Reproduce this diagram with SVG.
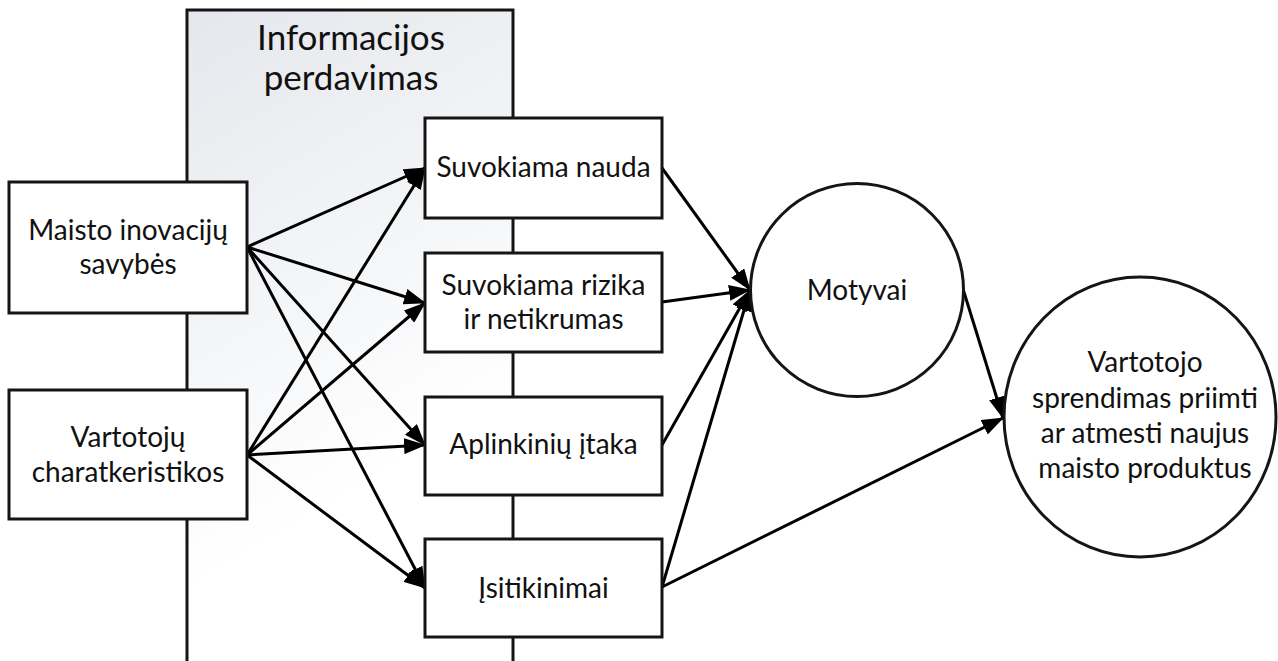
<svg xmlns="http://www.w3.org/2000/svg" width="1278" height="661" viewBox="0 0 1278 661">
<style>
.box{fill:#ffffff;stroke:#151515;stroke-width:3}
.lbl{font-family:Lato,"Liberation Sans",sans-serif;font-size:28px;fill:#111;text-anchor:middle}
.title{font-family:Lato,"Liberation Sans",sans-serif;font-size:35px;fill:#111;text-anchor:middle}
.conn{stroke:#000;stroke-width:3;fill:none;marker-end:url(#arr)}
</style>
<defs>
<linearGradient id="bg" gradientUnits="userSpaceOnUse" x1="187" y1="10" x2="440" y2="440">
<stop offset="0" stop-color="#e4e7ec"/>
<stop offset="1" stop-color="#ffffff"/>
</linearGradient>
<marker id="arr" markerUnits="userSpaceOnUse" markerWidth="22" markerHeight="16" refX="21" refY="8" orient="auto">
<path d="M0,0 L22,8 L0,16 z" fill="#000"/>
</marker>
</defs>
<rect width="1278" height="661" fill="#ffffff"/>
<g id="informacijos-perdavimas">
<rect x="187" y="10" width="326" height="662" fill="url(#bg)" stroke="#151515" stroke-width="3"/>
<text class="title" x="351" y="50">Informacijos</text>
<text class="title" x="351" y="90">perdavimas</text>
</g>
<g id="connectors">
<path class="conn" d="M247,247 L425,168"/>
<path class="conn" d="M247,247 L425,303"/>
<path class="conn" d="M247,247 L425,445"/>
<path class="conn" d="M247,247 L425,588"/>
<path class="conn" d="M247,455 L425,168"/>
<path class="conn" d="M247,455 L425,303"/>
<path class="conn" d="M247,455 L425,445"/>
<path class="conn" d="M247,455 L425,588"/>
<path class="conn" d="M662,168 L750,290"/>
<path class="conn" d="M662,302 L750,290"/>
<path class="conn" d="M662,445 L750,290"/>
<path class="conn" d="M662,587 L750,290"/>
<path class="conn" d="M662,587 L1003,418"/>
<path class="conn" d="M963,289 L1003,418"/>
</g>
<g id="maisto-inovaciju-savybes">
<rect class="box" x="9" y="182" width="238" height="131"/>
<text class="lbl" x="128" y="240">Maisto inovacijų</text>
<text class="lbl" x="128" y="274">savybės</text>
</g>
<g id="vartotoju-charakteristikos">
<rect class="box" x="9" y="390" width="238" height="129"/>
<text class="lbl" x="128" y="447">Vartotojų</text>
<text class="lbl" x="128" y="482">charatkeristikos</text>
</g>
<g id="suvokiama-nauda">
<rect class="box" x="425" y="118" width="237" height="100"/>
<text class="lbl" x="543.5" y="177">Suvokiama nauda</text>
</g>
<g id="suvokiama-rizika">
<rect class="box" x="425" y="253" width="237" height="99"/>
<text class="lbl" x="543.5" y="295">Suvokiama rizika</text>
<text class="lbl" x="543.5" y="329">ir netikrumas</text>
</g>
<g id="aplinkiniu-itaka">
<rect class="box" x="425" y="397" width="237" height="98"/>
<text class="lbl" x="543.5" y="454">Aplinkinių įtaka</text>
</g>
<g id="isitikinimai">
<rect class="box" x="425" y="539" width="237" height="98"/>
<text class="lbl" x="543.5" y="598">Įsitikinimai</text>
</g>
<g id="motyvai">
<circle cx="857" cy="290" r="106.5" fill="#ffffff" stroke="#151515" stroke-width="3"/>
<text class="lbl" x="857" y="300">Motyvai</text>
</g>
<g id="vartotojo-sprendimas">
<ellipse cx="1140" cy="417" rx="136" ry="140" fill="#ffffff" stroke="#151515" stroke-width="3"/>
<text class="lbl" x="1145" y="372">Vartotojo</text>
<text class="lbl" x="1145" y="408">sprendimas priimti</text>
<text class="lbl" x="1145" y="443">ar atmesti naujus</text>
<text class="lbl" x="1145" y="478">maisto produktus</text>
</g>
</svg>
